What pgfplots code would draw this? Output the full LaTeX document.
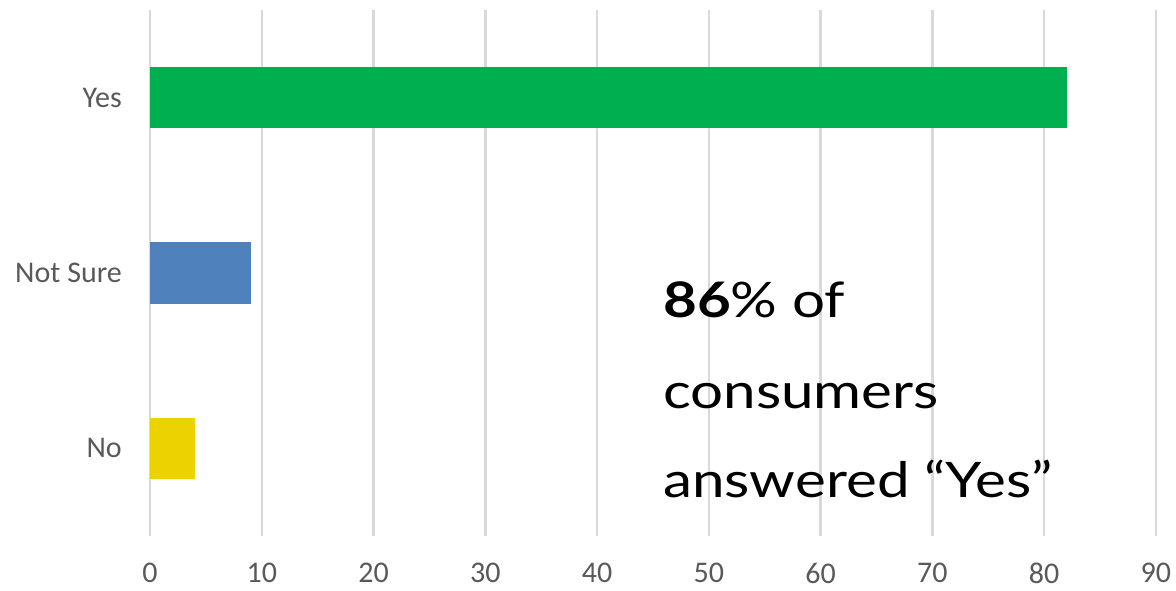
\documentclass[border=0pt]{standalone}
\usepackage{pgfplots}
\pgfplotsset{compat=1.18}
\usepackage{fontspec}
\setmainfont{Carlito}
\newfontfamily\annfont[FakeStretch=1.19]{Lato}
\definecolor{barGreen}{RGB}{0,176,80}
\definecolor{barBlue}{RGB}{79,129,189}
\definecolor{barYellow}{RGB}{236,211,0}
\definecolor{gridGray}{RGB}{217,217,217}
\definecolor{tickGray}{RGB}{89,89,89}
\begin{document}
\begin{tikzpicture}
\useasboundingbox (-150pt,-55pt) rectangle (1026pt,536pt);
\begin{axis}[
  at={(0,0)}, anchor=south west,
  scale only axis,
  width=1006pt, height=526pt,
  xmin=0, xmax=90, ymin=-0.5, ymax=2.5,
  xtick={0,10,...,90},
  ytick={0,1,2},
  yticklabels={No,Not Sure,Yes},
  xbar, bar width=61.6pt, bar shift=0pt,
  axis line style={draw=none},
  major tick length=0pt,
  xmajorgrids,
  major grid style={draw=gridGray, line width=2.5pt},
  /pgf/number format/assume math mode=true,
  tick label style={font=\fontsize{30}{35}\selectfont, text=tickGray, inner sep=0pt},
  yticklabel style={anchor=east, xshift=-28pt},
  xticklabel style={anchor=north, yshift=-27pt},
  clip=false,
]
\addplot[fill=barYellow, draw=none] coordinates {(4,0)};
\addplot[fill=barBlue, draw=none] coordinates {(9,1)};
\addplot[fill=barGreen, draw=none] coordinates {(82,2)};
\node[anchor=base west, inner sep=0pt, font=\annfont\fontsize{49}{58}\selectfont] at (axis cs:45.9,0.749) {\textbf{86}\% of};
\node[anchor=base west, inner sep=0pt, font=\annfont\fontsize{49}{58}\selectfont] at (axis cs:45.9,0.230) {consumers};
\node[anchor=base west, inner sep=0pt, font=\annfont\fontsize{49}{58}\selectfont] at (axis cs:45.9,-0.283) {answered “Yes”};
\end{axis}
\end{tikzpicture}
\end{document}
